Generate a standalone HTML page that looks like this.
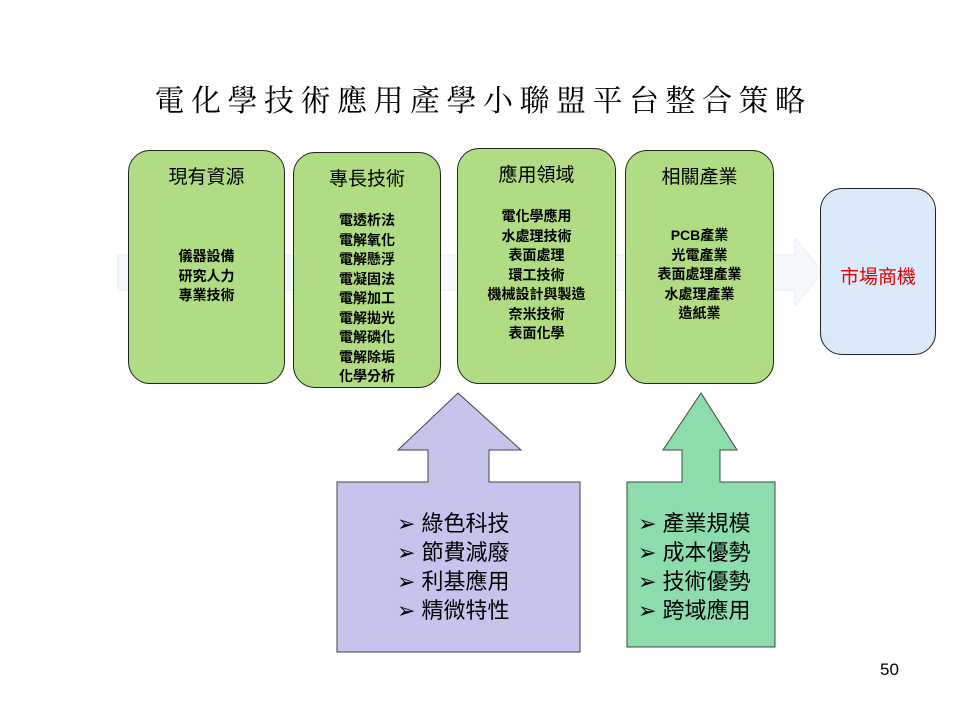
<!DOCTYPE html>
<html><head><meta charset="utf-8"><style>
body{margin:0;width:960px;height:720px;background:#fff;position:relative;overflow:hidden;font-family:"Liberation Sans","Noto Sans CJK TC",sans-serif}
.t{position:absolute;left:0;width:960px;top:76px;text-align:center;font-family:"Liberation Serif","Noto Serif CJK SC",serif;font-size:30px;letter-spacing:6.5px;text-indent:6px;color:#000}
.b{position:absolute;background:#b0dc84;border:1.5px solid #222;border-radius:22px;box-sizing:border-box;text-align:center}
.h{font-size:19px;margin-top:11px}
.l{font-size:14px;font-weight:bold;line-height:19.5px}
.s{position:absolute;font-size:22px;line-height:29px}
</style></head><body>
<div class="t">電化學技術應用產學小聯盟平台整合策略</div>
<svg width="960" height="720" style="position:absolute;left:0;top:0">
<polygon points="118,255 795,255 795,238 822,272 795,306 795,290 118,290" fill="#f5f9fd" stroke="#e6eef7"/>
<polygon points="458,393 521,450 489,450 489,482 580,482 580,652 337,652 337,482 428,482 428,450 398,450" fill="#c4c4ec" stroke="#444"/>
<polygon points="701,393 737,450 720,450 720,482 775,482 775,647 627,647 627,482 682,482 682,450 663,450" fill="#8cdcac" stroke="#444"/>
</svg>
<div class="b" style="left:128px;top:150px;width:157px;height:234px"><div class="h">現有資源</div><div class="l" style="margin-top:58px">儀器設備<br>研究人力<br>專業技術</div></div>
<div class="b" style="left:293px;top:152px;width:148px;height:236px"><div class="h">專長技術</div><div class="l" style="margin-top:20px">電透析法<br>電解氧化<br>電解懸浮<br>電凝固法<br>電解加工<br>電解拋光<br>電解磷化<br>電解除垢<br>化學分析</div></div>
<div class="b" style="left:457px;top:148px;width:159px;height:236px"><div class="h">應用領域</div><div class="l" style="margin-top:20px">電化學應用<br>水處理技術<br>表面處理<br>環工技術<br>機械設計與製造<br>奈米技術<br>表面化學</div></div>
<div class="b" style="left:625px;top:150px;width:149px;height:234px"><div class="h">相關產業</div><div class="l" style="margin-top:37px">PCB產業<br>光電產業<br>表面處理產業<br>水處理產業<br>造紙業</div></div>
<div class="b" style="left:820px;top:188px;width:116px;height:167px;background:#dbeafa"><div style="font-size:19px;color:#e00000;margin-top:73px">市場商機</div></div>
<div class="s" style="left:397px;top:509px">➢ 綠色科技<br>➢ 節費減廢<br>➢ 利基應用<br>➢ 精微特性</div>
<div class="s" style="left:638px;top:509px">➢ 產業規模<br>➢ 成本優勢<br>➢ 技術優勢<br>➢ 跨域應用</div>
<div style="position:absolute;left:880px;top:660px;font-size:17px">50</div>
</body></html>
